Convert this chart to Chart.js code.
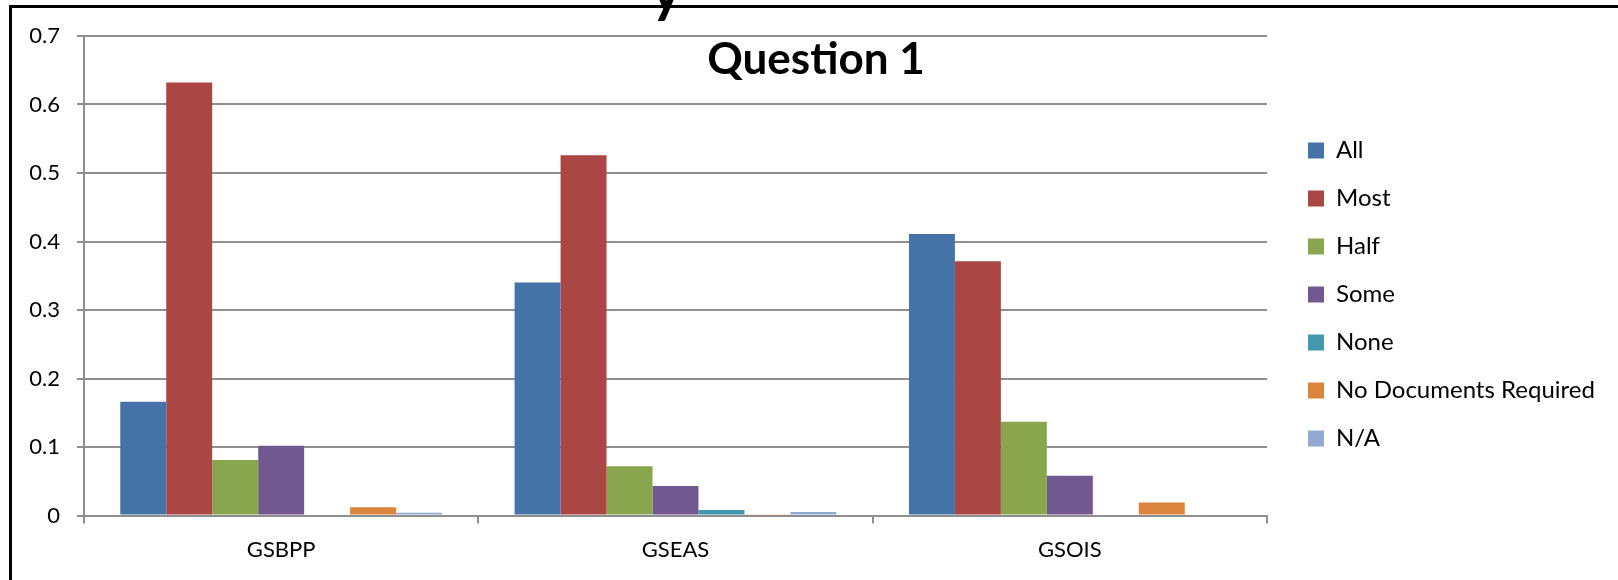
<!DOCTYPE html>
<html>
<head>
<meta charset="utf-8">
<script src="https://cdn.jsdelivr.net/npm/chart.js@4.4.0/dist/chart.umd.min.js"></script>
<style>
  html, body { margin: 0; padding: 0; background: #fff; overflow: hidden; }
  #wrap { position: relative; width: 1618px; height: 580px; }
  #myChart { position: absolute; left: 0; top: 0; }
  #frame {
    position: absolute; left: 9px; top: 5px; width: 1700px; height: 700px;
    border-left: 3px solid #000; border-top: 3px solid #000; pointer-events: none;
  }
  #cut {
    position: absolute; left: 651px; top: -40px;
    font: bold 58px Lato, sans-serif; color: #000; line-height: 58px;
  }
</style>
</head>
<body>
<div id="wrap">
  <canvas id="myChart" width="1618" height="580"></canvas>
  <div id="cut">y</div>
  <div id="frame"></div>
</div>
<script>
const categories = ['GSBPP', 'GSEAS', 'GSOIS'];
const seriesNames = ['All', 'Most', 'Half', 'Some', 'None', 'No Documents Required', 'N/A'];

const allVals = [0.166, 0.340, 0.411];
const mostVals = [0.632, 0.526, 0.371];
const halfVals = [0.081, 0.072, 0.137];
const someVals = [0.102, 0.043, 0.058];
const noneVals = [0, 0.008, 0];
const noDocsVals = [0.012, 0.002, 0.019];
const naVals = [0.004, 0.005, 0];

const yTickLabels = ['0', '0.1', '0.2', '0.3', '0.4', '0.5', '0.6', '0.7'];

const colors = ['#4572A7', '#AA4643', '#89A54E', '#71588F', '#4198AF', '#DB843D', '#93A9CF'];
const gridGray = '#8f8f8f';

// title sits inside the plot, the way the spreadsheet placed it
const innerTitle = {
  id: 'innerTitle',
  afterDraw(chart) {
    const ctx = chart.ctx;
    ctx.save();
    ctx.font = 'bold 44px Lato';
    ctx.fillStyle = '#000';
    ctx.textAlign = 'center';
    ctx.textBaseline = 'alphabetic';
    ctx.fillText('Question 1', 816, 74);
    ctx.restore();
  }
};

// fixed legend column width and a small nudge so the keys line up like the original
const legendPlace = {
  id: 'legendPlace',
  afterInit(chart) {
    const lg = chart.legend;
    const fit = lg.fit.bind(lg);
    lg.fit = function () { fit(); this.width = 351; };
  },
  afterLayout(chart) {
    chart.legend.left += 17;
    chart.legend.top -= 27;
  }
};

function draw() {
  Chart.defaults.font.family = 'Lato';
  Chart.defaults.font.size = 22;
  Chart.defaults.color = '#000';

  const seriesVals = [allVals, mostVals, halfVals, someVals, noneVals, noDocsVals, naVals];

  const ctx = document.getElementById('myChart').getContext('2d');
  const myChart = new Chart(ctx, {
    type: 'bar',
    data: {
      labels: categories,
      datasets: seriesNames.map((name, i) => ({
        label: name,
        data: seriesVals[i],
        backgroundColor: colors[i],
        borderWidth: 0,
        barPercentage: 1,
        categoryPercentage: 0.816
      }))
    },
    options: {
      responsive: false,
      animation: false,
      devicePixelRatio: 1,
      layout: { padding: { top: 36, left: 0, right: 0, bottom: 0 } },
      plugins: {
        title: { display: false },
        tooltip: { enabled: false },
        legend: {
          position: 'right',
          labels: {
            boxWidth: 16,
            boxHeight: 16,
            padding: 24,
            font: { size: 24 }
          }
        }
      },
      scales: {
        x: {
          afterFit(scale) { scale.height = 64.5; },
          grid: {
            drawOnChartArea: false,
            drawTicks: true,
            tickLength: 8,
            color: gridGray,
            lineWidth: 2,
            offset: true
          },
          border: { color: gridGray, width: 2 },
          ticks: { padding: 13, font: { size: 22 } }
        },
        y: {
          min: 0,
          max: 0.7,
          afterFit(scale) { scale.width = 84; },
          grid: {
            color: gridGray,
            lineWidth: 2,
            drawTicks: true,
            tickLength: 7
          },
          border: { color: gridGray, width: 2 },
          ticks: {
            stepSize: 0.1,
            padding: 17,
            font: { size: 22 },
            callback: (v, i) => yTickLabels[i]
          }
        }
      }
    },
    plugins: [innerTitle, legendPlace]
  });
}

Promise.all([
  document.fonts.load('22px Lato'),
  document.fonts.load('bold 44px Lato')
]).catch(() => {}).then(draw);
</script>
</body>
</html>
